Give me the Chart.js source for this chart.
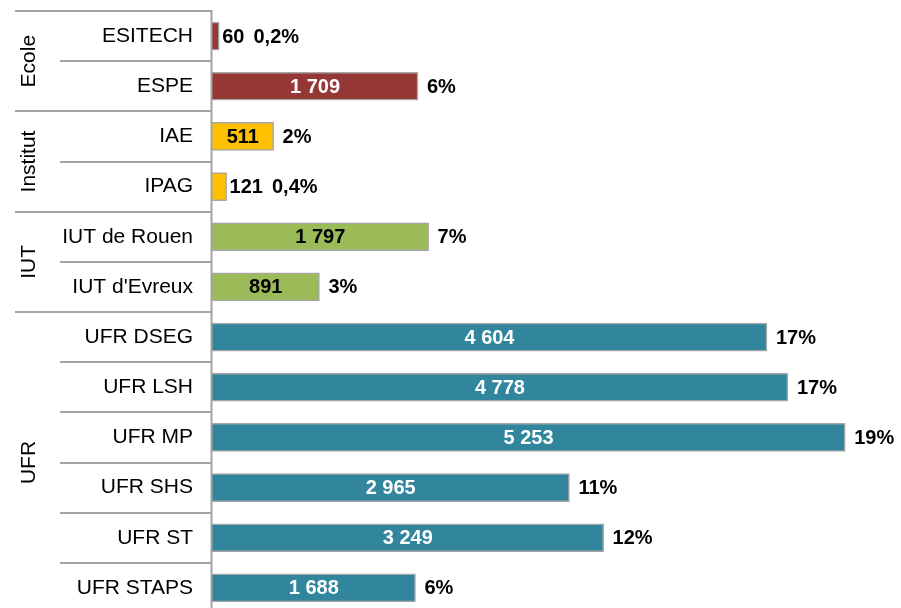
<!DOCTYPE html>
<html>
<head>
<meta charset="utf-8">
<script src="https://cdn.jsdelivr.net/npm/chart.js@4.4.1/dist/chart.umd.min.js"></script>
<style>
  html, body { margin: 0; padding: 0; background: #fff; overflow: hidden; }
  #wrap { width: 901px; height: 614px; }
</style>
</head>
<body>
<div id="wrap"><canvas id="graphique" width="901" height="614"></canvas></div>
<script>
const composantes = ['ESITECH', 'ESPE', 'IAE', 'IPAG', 'IUT de Rouen', "IUT d'Evreux",
    'UFR DSEG', 'UFR LSH', 'UFR MP', 'UFR SHS', 'UFR ST', 'UFR STAPS'];
const effectifs = [60, 1709, 511, 121, 1797, 891, 4604, 4778, 5253, 2965, 3249, 1688];
const pourcentages = ['0,2%', '6%', '2%', '0,4%', '7%', '3%', '17%', '17%', '19%', '11%', '12%', '6%'];
const groupes = ['Ecole', 'Institut', 'IUT', 'UFR'];
const debutGroupes = [0, 2, 4, 6];
const finGroupes = [2, 4, 6, 12];

const couleursGroupes = ['#953735', '#FFC000', '#9BBB59', '#31859C'];
const texteGroupes = ['#ffffff', '#000000', '#000000', '#ffffff'];
const police = '"Liberation Sans", Arial, sans-serif';

function groupeDe(i) {
    for (let g = 0; g < groupes.length; g++) {
        if (i >= debutGroupes[g] && i < finGroupes[g]) return g;
    }
    return 0;
}

function formaterNombre(n) {
    return String(n).replace(/\B(?=(\d{3})+(?!\d))/g, ' ');
}

const couleursBarres = effectifs.map((v, i) => couleursGroupes[groupeDe(i)]);

// separateurs, axe, libelles de groupes et etiquettes des barres
const decorations = {
    id: 'decorations',
    afterDraw(chart) {
        const ctx = chart.ctx;
        const area = chart.chartArea;
        const y = chart.scales.y;
        const n = composantes.length;
        const pas = (y.getPixelForValue(n - 1) - y.getPixelForValue(0)) / (n - 1);
        const limite = i => y.getPixelForValue(0) - pas / 2 + i * pas;

        ctx.save();
        ctx.strokeStyle = '#a3a3a3';
        ctx.lineWidth = 2;
        for (let i = 0; i <= n; i++) {
            const yy = Math.round(limite(i));
            const x0 = debutGroupes.includes(i) || i === n ? 15 : 60;
            ctx.beginPath();
            ctx.moveTo(x0, yy);
            ctx.lineTo(area.left, yy);
            ctx.stroke();
        }
        ctx.beginPath();
        ctx.moveTo(area.left - 0.5, limite(0) - 1);
        ctx.lineTo(area.left - 0.5, area.bottom + 5);
        ctx.stroke();

        // libelles des groupes, verticaux
        ctx.fillStyle = '#000';
        ctx.font = '21px ' + police;
        ctx.textAlign = 'center';
        ctx.textBaseline = 'middle';
        for (let g = 0; g < groupes.length; g++) {
            const milieu = (limite(debutGroupes[g]) + limite(finGroupes[g])) / 2;
            ctx.save();
            ctx.translate(28, milieu);
            ctx.rotate(-Math.PI / 2);
            ctx.fillText(groupes[g], 0, 1);
            ctx.restore();
        }

        // etiquettes des barres
        const meta = chart.getDatasetMeta(0);
        ctx.font = 'bold 20px ' + police;
        ctx.textBaseline = 'middle';
        meta.data.forEach((barre, i) => {
            const txt = formaterNombre(effectifs[i]);
            const largeur = ctx.measureText(txt).width;
            const longueur = barre.x - barre.base;
            let fin = barre.x;
            if (longueur > largeur + 8) {
                ctx.fillStyle = texteGroupes[groupeDe(i)];
                ctx.textAlign = 'center';
                ctx.fillText(txt, (barre.x + barre.base) / 2, barre.y + 1);
            } else {
                ctx.fillStyle = '#000';
                ctx.textAlign = 'left';
                ctx.fillText(txt, barre.x + 3, barre.y + 1);
                fin = barre.x + 3 + largeur;
            }
            ctx.fillStyle = '#000';
            ctx.textAlign = 'left';
            ctx.fillText(pourcentages[i], fin + 9, barre.y + 1);
        });
        ctx.restore();
    }
};

new Chart(document.getElementById('graphique'), {
    type: 'bar',
    data: {
        labels: composantes,
        datasets: [{
            data: effectifs,
            backgroundColor: couleursBarres,
            borderColor: '#a6a6a6',
            borderWidth: 1.5,
            borderSkipped: 'start',
            barThickness: 28
        }]
    },
    options: {
        indexAxis: 'y',
        responsive: false,
        animation: false,
        devicePixelRatio: 1,
        layout: { padding: { top: 11, right: 14, bottom: 1, left: 0 } },
        plugins: {
            legend: { display: false },
            tooltip: { enabled: false }
        },
        scales: {
            x: {
                display: false,
                min: 0,
                max: 5600
            },
            y: {
                grid: { display: false, drawTicks: false },
                border: { display: false },
                ticks: {
                    color: '#000',
                    padding: 19,
                    font: { family: police, size: 21 }
                },
                afterFit(scale) {
                    scale.width = 212;
                    scale.paddingTop = 0;
                    scale.paddingBottom = 0;
                }
            }
        }
    },
    plugins: [decorations]
});
</script>
</body>
</html>
